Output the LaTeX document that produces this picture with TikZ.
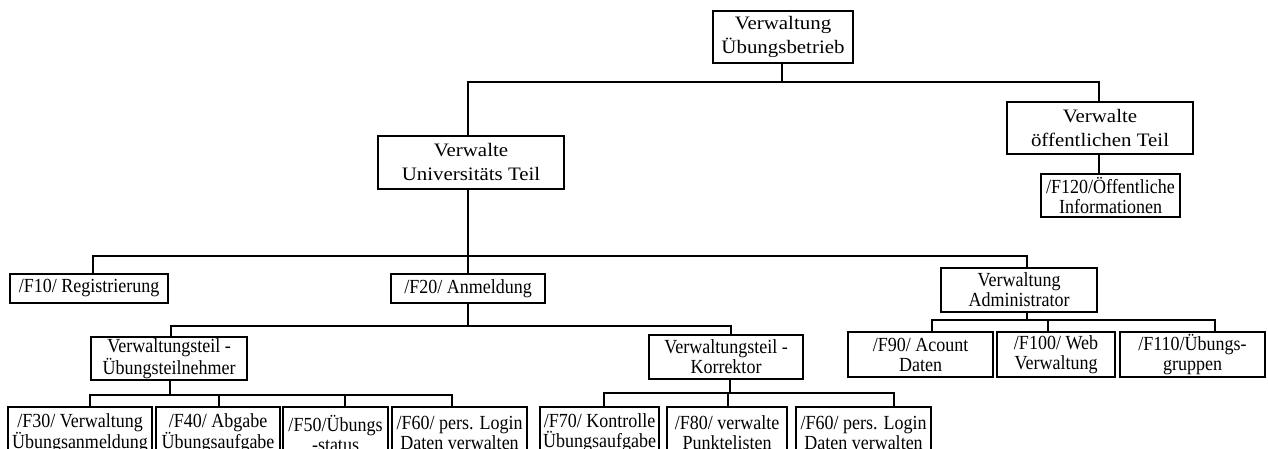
\documentclass[tikz,border=0pt]{standalone}
\usepackage{fontspec}
\setmainfont{Liberation Serif}
\newfontfamily\lowfont{Liberation Serif}[FakeStretch=0.9]
\newfontfamily\topfont{Liberation Serif}[FakeStretch=1.1]
\begin{document}
\begin{tikzpicture}[x=1pt,y=-1pt,
  box/.style={draw=black,line width=1.6pt,fill=white,inner sep=0pt,align=center,
    font=\lowfont\fontsize{20}{20}\selectfont},
  bigbox/.style={box,font=\topfont\fontsize{19}{24}\selectfont},
  conn/.style={line width=1.6pt,line cap=rect}]
\useasboundingbox (0,0) rectangle (1268,449);
\clip (0,0) rectangle (1268,449);
% nodes
\node[bigbox,minimum width=140,minimum height=52] (A) at (783,37) {Verwaltung\\Übungsbetrieb};
\node[bigbox,minimum width=186,minimum height=53] (B) at (471,162.5) {Verwalte\\Universitäts Teil};
\node[bigbox,minimum width=186,minimum height=52] (C) at (1100,128) {Verwalte\\öffentlichen Teil};
\node[box,minimum width=139,minimum height=43] (G) at (1110.5,195.5) {/F120/Öffentliche\\Informationen};
\node[box,minimum width=158,minimum height=29] (F10) at (89,288.5) {/F10/ Registrierung};
\node[box,minimum width=154,minimum height=29] (F20) at (468,288.5) {/F20/ Anmeldung};
\node[box,minimum width=156,minimum height=44] (D) at (1019,290) {Verwaltung\\Administrator};
\node[box,minimum width=156,minimum height=43] (E) at (169,358.5) {Verwaltungsteil -\\Übungsteilnehmer};
\node[box,minimum width=154,minimum height=44] (F) at (726,357) {Verwaltungsteil -\\Korrektor};
\node[box,minimum width=144,minimum height=52] (F30) at (80,433) {/F30/ Verwaltung\\Übungsanmeldung};
\node[box,minimum width=124,minimum height=52] (F40) at (218,433) {/F40/ Abgabe\\Übungsaufgabe};
\node[box,minimum width=105,minimum height=52] (F50) at (335.5,433) {/F50/Übungs\\-status};
\node[box,minimum width=135,minimum height=52] (F60) at (459.5,433) {/F60/ pers. Login\\Daten verwalten};
\node[box,minimum width=119,minimum height=52] (F70) at (599.5,433) {/F70/ Kontrolle\\Übungsaufgabe};
\node[box,minimum width=120,minimum height=52] (F80) at (727,433) {/F80/ verwalte\\Punktelisten};
\node[box,minimum width=135,minimum height=52] (F60b) at (863.5,433) {/F60/ pers. Login\\Daten verwalten};
\node[box,minimum width=145,minimum height=45] (F90) at (920.5,354.5) {/F90/ Acount\\Daten};
\node[box,minimum width=118,minimum height=45] (F100) at (1056,354.5) {/F100/ Web\\Verwaltung};
\node[box,minimum width=145,minimum height=45] (F110) at (1192.5,354.5) {/F110/Übungs-\\gruppen};
% junction coordinates
\coordinate (jA) at (782,82);
\coordinate (jB) at (468,82);
\coordinate (jC) at (1099,82);
\coordinate (k10) at (93,256);
\coordinate (k20) at (468,256);
\coordinate (kD) at (1027,256);
\coordinate (m) at (468,326);
\coordinate (mE) at (171,326);
\coordinate (mF) at (731,326);
\coordinate (nE) at (170,395);
\coordinate (n30) at (90,395);
\coordinate (n40) at (219,395);
\coordinate (n50) at (345,395);
\coordinate (n60) at (452,395);
\coordinate (oF) at (730,393);
\coordinate (o70) at (604,393);
\coordinate (o80) at (728,393);
\coordinate (o60) at (894,393);
\coordinate (pD) at (1027,320);
\coordinate (p90) at (932,320);
\coordinate (p100) at (1048,320);
\coordinate (p110) at (1215,320);
% connectors
\draw[conn] (A.south -| jA) -- (jA);
\draw[conn] (B.north -| jB) -- (jB) -- (jC) -- (C.north -| jC);
\draw[conn] (C.south -| jC) -- (G.north -| jC);
\draw[conn] (B.south -| k20) -- (k20);
\draw[conn] (F10.north -| k10) -- (k10) -- (kD) -- (D.north -| kD);
\draw[conn] (k20) -- (F20.north -| k20);
\draw[conn] (F20.south -| m) -- (m);
\draw[conn] (E.north -| mE) -- (mE) -- (mF) -- (F.north -| mF);
\draw[conn] (E.south -| nE) -- (nE);
\draw[conn] (F30.north -| n30) -- (n30) -- (n60) -- (F60.north -| n60);
\draw[conn] (n40) -- (F40.north -| n40);
\draw[conn] (n50) -- (F50.north -| n50);
\draw[conn] (F.south -| oF) -- (oF);
\draw[conn] (F70.north -| o70) -- (o70) -- (o60) -- (F60b.north -| o60);
\draw[conn] (o80) -- (F80.north -| o80);
\draw[conn] (D.south -| pD) -- (pD);
\draw[conn] (F90.north -| p90) -- (p90) -- (p110) -- (F110.north -| p110);
\draw[conn] (p100) -- (F100.north -| p100);
\end{tikzpicture}
\end{document}
